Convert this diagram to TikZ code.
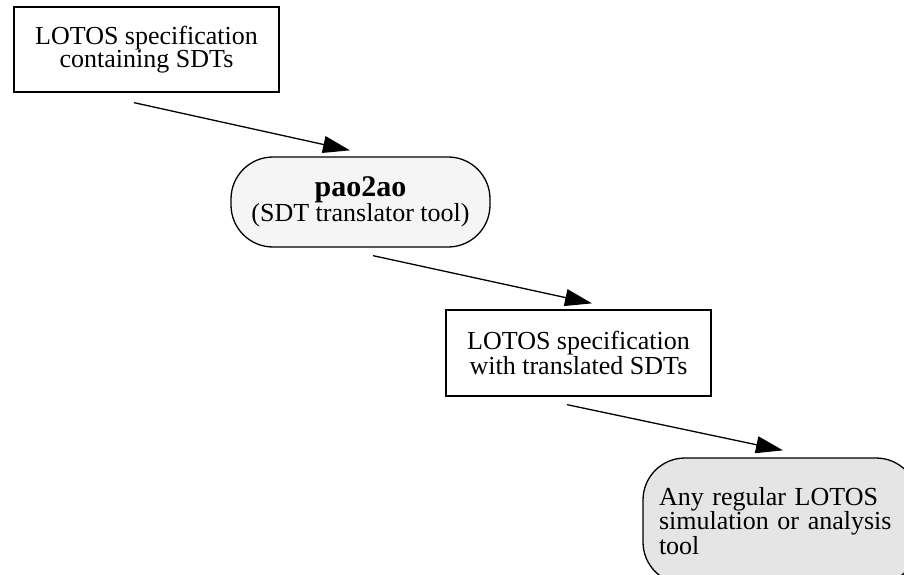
\documentclass[tikz,border=0pt]{standalone}
\usepackage{fontspec}
\setmainfont{Liberation Serif}
\usetikzlibrary{arrows.meta,calc}
\tikzset{
  box/.style={draw=black, line width=1.3pt, inner sep=0pt, align=center,
    font=\fontsize{26}{23}\selectfont},
  pill/.style={box, rounded corners=42pt},
  arr/.style={line width=1.3pt, -{Triangle[length=27pt,width=17pt]}}
}
\begin{document}
\begin{tikzpicture}[x=1pt,y=-1pt]
\useasboundingbox (0,0) rectangle (904,575);
\node[box, minimum width=265pt, minimum height=85pt] (b1) at (146.5,49.5)
  {LOTOS specification\\containing SDTs};
\node[pill, fill=black!4, minimum width=259pt, minimum height=90pt] (p2) at (360.5,202)
  {{\fontsize{30}{26}\selectfont\bfseries pao2ao}\\(SDT translator tool)};
\node[box, minimum width=265pt, minimum height=86pt] (b3) at (578.5,353)
  {LOTOS specification\\with translated SDTs};
\node[pill, fill=black!10, minimum width=275pt, minimum height=126pt, align=left,
  text width=243pt] (p4) at (780.5,521)
  {Any regular LOTOS\\simulation or analysis\\tool};
\draw[arr] ($(b1.south)+(-12.5,10)$) -- ($(p2.north)+(-10.5,-6)$);
\draw[arr] ($(p2.south)+(12.5,8)$) -- ($(b3.north)+(13.5,-6)$);
\draw[arr] ($(b3.south)+(-11.5,8)$) -- ($(p4.north)+(2.5,-7)$);
\end{tikzpicture}
\end{document}
